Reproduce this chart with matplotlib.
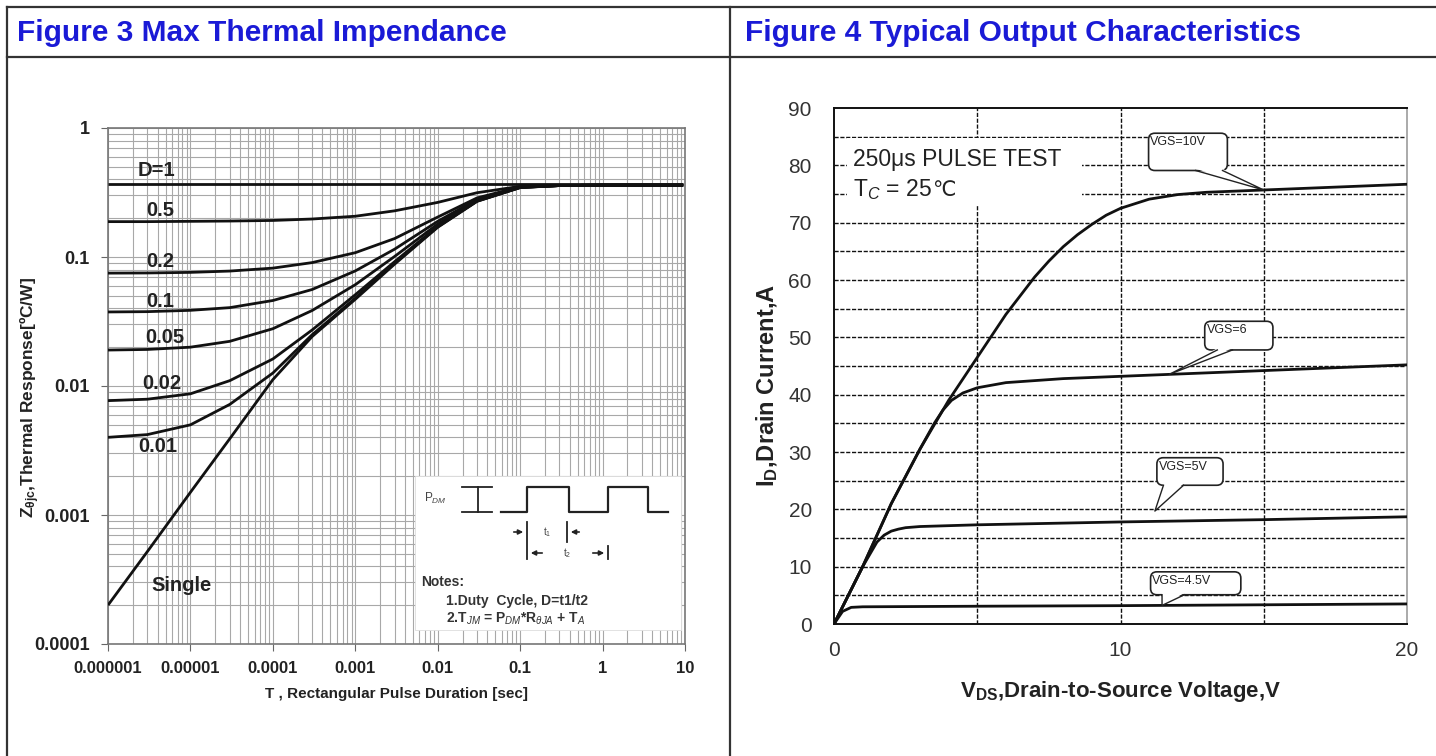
import matplotlib
matplotlib.use("Agg")
import matplotlib.pyplot as plt
import numpy as np
from matplotlib.lines import Line2D
from matplotlib.patches import Rectangle, FancyBboxPatch, Polygon

plt.rcParams['font.family'] = ['Liberation Sans', 'DejaVu Sans']
plt.rcParams['mathtext.fontset'] = 'custom'
plt.rcParams['mathtext.rm'] = 'Liberation Sans'
plt.rcParams['mathtext.it'] = 'Liberation Sans:italic'
plt.rcParams['mathtext.bf'] = 'Liberation Sans:bold'

# ---- Figure 3: transient thermal impedance ----
pulse_t = [1e-6, 3e-6, 1e-5, 3e-5, 1e-4, 3e-4, 1e-3, 3e-3, 1e-2, 3e-2, 0.1, 0.3, 1, 9.5]
z_d1 = [0.37, 0.37, 0.37, 0.37, 0.37, 0.37, 0.37, 0.37, 0.37, 0.37, 0.37, 0.37, 0.37, 0.37]
z_d05 = [0.188, 0.188, 0.189, 0.190, 0.192, 0.197, 0.207, 0.228, 0.265, 0.315, 0.353, 0.359, 0.36, 0.36]
z_d02 = [0.0750, 0.0752, 0.0760, 0.0778, 0.0820, 0.0905, 0.108, 0.139, 0.204, 0.287, 0.350, 0.358, 0.36, 0.36]
z_d01 = [0.0375, 0.0377, 0.0386, 0.0405, 0.0460, 0.0560, 0.078, 0.115, 0.189, 0.280, 0.348, 0.358, 0.36, 0.36]
z_d005 = [0.0190, 0.0192, 0.0200, 0.0222, 0.0278, 0.0385, 0.061, 0.101, 0.180, 0.276, 0.347, 0.358, 0.36, 0.36]
z_d002 = [0.0077, 0.0079, 0.0087, 0.0110, 0.0162, 0.0272, 0.051, 0.092, 0.173, 0.272, 0.346, 0.358, 0.36, 0.36]
z_d001 = [0.0040, 0.0042, 0.0050, 0.0072, 0.0126, 0.0250, 0.048, 0.090, 0.171, 0.271, 0.346, 0.358, 0.36, 0.36]
z_single = [0.0002, 0.00052, 0.0015, 0.0039, 0.0112, 0.0242, 0.047, 0.088, 0.170, 0.270, 0.345, 0.358, 0.36, 0.36]
z_curves = [z_d1, z_d05, z_d02, z_d01, z_d005, z_d002, z_d001, z_single]

curve_labels = ["D=1", "0.5", "0.2", "0.1", "0.05", "0.02", "0.01", "Single"]
label_xy = [(2.3e-6, 0.47), (2.9e-6, 0.231), (2.9e-6, 0.0915), (2.9e-6, 0.0455),
            (2.8e-6, 0.0236), (2.6e-6, 0.0104), (2.3e-6, 0.0034), (3.4e-6, 0.000285)]

x_ticks3 = [1e-6, 1e-5, 1e-4, 1e-3, 1e-2, 1e-1, 1, 10]
x_labels3 = ["0.000001", "0.00001", "0.0001", "0.001", "0.01", "0.1", "1", "10"]
y_ticks3 = [1e-4, 1e-3, 1e-2, 1e-1, 1]
y_labels3 = ["0.0001", "0.001", "0.01", "0.1", "1"]

# ---- Figure 4: output characteristics ----
vds_10 = [0, 1, 2, 3, 4, 5, 6, 7, 7.5, 8, 8.5, 9, 9.5, 10, 11, 12, 13, 15, 17, 20]
id_10 = [0, 10, 21, 30.5, 39, 46.5, 54, 60.5, 63.3, 65.8, 67.9, 69.7, 71.3, 72.5, 74.1, 74.9, 75.3, 75.7, 76.1, 76.7]
vds_6 = [0, 1, 2, 3, 3.5, 3.8, 4.1, 4.5, 5, 6, 8, 10, 12, 15, 20]
id_6 = [0, 10, 21, 30.5, 35, 37.3, 39.0, 40.3, 41.2, 42.1, 42.8, 43.2, 43.6, 44.2, 45.2]
vds_5 = [0, 1, 1.5, 1.75, 2, 2.25, 2.5, 3, 5, 10, 15, 20]
id_5 = [0, 10, 14.3, 15.5, 16.2, 16.55, 16.8, 17.0, 17.3, 17.8, 18.2, 18.7]
vds_45 = [0, 0.3, 0.6, 1, 5, 10, 15, 20]
id_45 = [0, 2.2, 2.9, 3.0, 3.1, 3.2, 3.35, 3.5]
vgs_curves = [(vds_10, id_10), (vds_6, id_6), (vds_5, id_5), (vds_45, id_45)]

# callout: text, box (x0, y0, w, h), wedge base (x_a, x_b), tip V, curve index, tip offset
callouts = [
    ("VGS=10V", (10.98, 79.1, 2.75, 6.5), (12.62, 13.56), 15.0, 0, 0.0),
    ("VGS=6", (12.94, 47.8, 2.38, 5.0), (13.38, 13.91), 11.7, 1, 0.0),
    ("VGS=5V", (11.27, 24.2, 2.31, 4.8), (11.5, 12.2), 11.2, 2, 1.8),
    ("VGS=4.5V", (11.05, 5.1, 3.15, 4.0), (11.45, 12.23), 11.45, 3, 0.0),
]

W, H = 1436, 756
fig = plt.figure(figsize=(W / 100, H / 100), dpi=100)
fig.patch.set_facecolor('white')


def fx(px):
    return px / W


def fy(py):
    return 1 - py / H


# table frame
frame_kw = dict(color='#333333', lw=1.6, transform=fig.transFigure)
fig.add_artist(Line2D([fx(7), 1], [fy(7), fy(7)], **frame_kw))
fig.add_artist(Line2D([fx(7), 1], [fy(57), fy(57)], **frame_kw))
fig.add_artist(Line2D([fx(7), fx(7)], [fy(7), 0], **frame_kw))
fig.add_artist(Line2D([fx(730), fx(730)], [fy(7), 0], **frame_kw))

title_color = '#1a1ad6'
fig.text(fx(17), fy(33), "Figure 3 Max Thermal Impendance", color=title_color,
         fontsize=21.5, fontweight='bold', va='center', ha='left')
fig.text(fx(745), fy(33), "Figure 4 Typical Output Characteristics", color=title_color,
         fontsize=21.5, fontweight='bold', va='center', ha='left')

# ---------- left chart ----------
ax1 = fig.add_axes([fx(108), fy(644), (685 - 108) / W, (644 - 128) / H])
ax1.set_xscale('log')
ax1.set_yscale('log')
ax1.set_xlim(1e-6, 10)
ax1.set_ylim(1e-4, 1)
ax1.grid(which='both', color='#a8a8a8', lw=0.8)
ax1.set_axisbelow(True)
for z in z_curves:
    ax1.plot(pulse_t, z, color='#111111', lw=2.0, solid_capstyle='butt', zorder=4)
for lab, (tx, ty) in zip(curve_labels, label_xy):
    ax1.text(tx, ty, lab, fontsize=14.5, fontweight='bold', color='#222222',
             ha='left', va='center', zorder=5)

ax1.set_xticks(x_ticks3)
ax1.set_xticklabels(x_labels3, fontweight='bold', fontsize=12, color='#222222')
ax1.set_yticks(y_ticks3)
ax1.set_yticklabels(y_labels3, fontweight='bold', fontsize=13, color='#222222')
ax1.tick_params(which='minor', length=0)
ax1.tick_params(which='major', length=5, color='#666666', direction='out')
ax1.tick_params(axis='x', pad=7)
ax1.tick_params(axis='y', pad=8)
for s in ax1.spines.values():
    s.set_color('#777777')
    s.set_linewidth(1.2)
ax1.set_xlabel("T , Rectangular Pulse Duration [sec]", fontsize=11, fontweight='bold',
               color='#222222', labelpad=8)
ax1.set_ylabel(r"Z$_{\mathbf{\theta jc}}$,Thermal Response[ºC/W]", fontsize=12.5,
               fontweight='bold', color='#222222')
ax1.yaxis.set_label_coords(-0.115, 0.477)


# notes inset (drawn in pixel space of the axes)
def a1(px, py):
    return ((px - 108) / 577, (644 - py) / 516)


tr = ax1.transAxes
x0, y0 = a1(415, 630)
x1, y1 = a1(681, 476)
ax1.add_patch(Rectangle((x0, y0), x1 - x0, y1 - y0, transform=tr, facecolor='white',
                        edgecolor='#dddddd', lw=0.6, zorder=6))
wave_px = [(501, 512), (527, 512), (527, 487), (569, 487), (569, 512), (608, 512),
           (608, 487), (648, 487), (648, 512), (668, 512)]
wx, wy = zip(*[a1(*p) for p in wave_px])
ax1.plot(wx, wy, color='#222222', lw=1.6, transform=tr, zorder=7)
for seg in [[(478, 487), (478, 512)], [(462, 487), (492, 487)], [(462, 512), (492, 512)],
            [(527, 522), (527, 559)], [(567, 522), (567, 542)], [(608, 546), (608, 559)]]:
    sx, sy = zip(*[a1(*p) for p in seg])
    ax1.plot(sx, sy, color='#222222', lw=1.3, transform=tr, zorder=7)
arrow_kw = dict(arrowstyle='-|>', color='#222222', lw=1.2, mutation_scale=7)
for start, end in [((511, 532), (526, 532)), ((582, 532), (568, 532)),
                   ((545, 553), (528, 553)), ((590, 553), (607, 553))]:
    ax1.annotate("", xy=a1(*end), xytext=a1(*start), xycoords=tr, textcoords=tr,
                 arrowprops=arrow_kw, zorder=7)
ax1.text(*a1(424, 498), r"P$_{DM}$", transform=tr, fontsize=8.5, color='#444444',
         va='center', zorder=7)
ax1.text(*a1(547, 532), r"t$_1$", transform=tr, fontsize=7, color='#444444',
         ha='center', va='center', zorder=7)
ax1.text(*a1(567, 553), r"t$_2$", transform=tr, fontsize=7, color='#444444',
         ha='center', va='center', zorder=7)
ax1.text(*a1(421, 582), "Notes:", transform=tr, fontsize=10, fontweight='bold',
         color='#333333', va='center', zorder=7)
ax1.text(*a1(446, 601), "1.Duty  Cycle, D=t1/t2", transform=tr, fontsize=10,
         fontweight='bold', color='#333333', va='center', zorder=7)
ax1.text(*a1(446, 619), r"2.T$_{JM}$ = P$_{DM}$*R$_{\theta JA}$ + T$_A$", transform=tr,
         fontsize=10, fontweight='bold', color='#333333', va='center', zorder=7)

# ---------- right chart ----------
ax2 = fig.add_axes([fx(834), fy(624), (1407 - 834) / W, (624 - 108) / H])
ax2.set_xlim(0, 20)
ax2.set_ylim(0, 90)
dash = (0, (3, 1.2))
for yv in range(5, 90, 5):
    ax2.axhline(yv, color='#111111', lw=1.0, ls=dash, zorder=1)
for xv in [5, 10, 15]:
    ax2.axvline(xv, color='#111111', lw=1.0, ls=dash, zorder=1)
for vx, iy in vgs_curves:
    ax2.plot(vx, iy, color='#111111', lw=2.0, zorder=3)

ax2.set_xticks([0, 10, 20])
ax2.set_yticks(range(0, 91, 10))
ax2.tick_params(length=0, labelsize=15, colors='#333333')
ax2.tick_params(axis='x', pad=12)
ax2.tick_params(axis='y', pad=16)
for side in ['left', 'bottom', 'top']:
    ax2.spines[side].set_color('#111111')
    ax2.spines[side].set_linewidth(1.4)
ax2.spines['right'].set_color('#aaaaaa')
ax2.spines['right'].set_linewidth(1.4)
ax2.set_xlabel(r"V$_{\mathbf{DS}}$,Drain-to-Source Voltage,V", fontsize=16,
               fontweight='bold', color='#222222', labelpad=14)
ax2.set_ylabel(r"I$_{\mathbf{D}}$,Drain Current,A", fontsize=17, fontweight='bold',
               color='#222222')
ax2.yaxis.set_label_coords(-0.094, 0.463)

# pulse-test note with white background covering the grid
ax2.add_patch(Rectangle((0.45, 73.0), 8.2, 11.7, facecolor='white', edgecolor='none', zorder=2))
ax2.text(0.66, 79.9, "250μs PULSE TEST", fontsize=16.5, color='#222222', va='baseline',
         ha='left', zorder=4)
tc = ax2.text(0.66, 74.6, r"T$_C$ = 25", fontsize=16.5, color='#222222', va='baseline',
              ha='left', zorder=4)
ax2.annotate("℃", xy=(1.0, 74.6), xycoords=(tc, 'data'), fontsize=15, color='#222222',
             family='DejaVu Sans', va='baseline', ha='left', zorder=4)

aspect = (573 / 20) / (516 / 90)
for text, (bx, by, bw, bh), (ba, bb), tip_v, ci, off in callouts:
    vx, iy = vgs_curves[ci]
    tip_i = np.interp(tip_v, vx, iy) + off
    ax2.add_patch(FancyBboxPatch((bx, by), bw, bh,
                                 boxstyle="round,pad=0,rounding_size=0.22",
                                 mutation_aspect=aspect, facecolor='white',
                                 edgecolor='#222222', lw=1.2, zorder=5))
    ax2.add_patch(Polygon([(ba, by + 0.3), (bb, by + 0.3), (tip_v, tip_i)], closed=True,
                          facecolor='white', edgecolor='none', zorder=6))
    ax2.plot([ba, tip_v, bb], [by, tip_i, by], color='#222222', lw=1.0, zorder=6)
    ax2.text(bx + 0.06, by + bh - 0.5, text, fontsize=9, color='#222222',
             ha='left', va='top', zorder=7)

fig.savefig("out.png", dpi=100, facecolor='white')
